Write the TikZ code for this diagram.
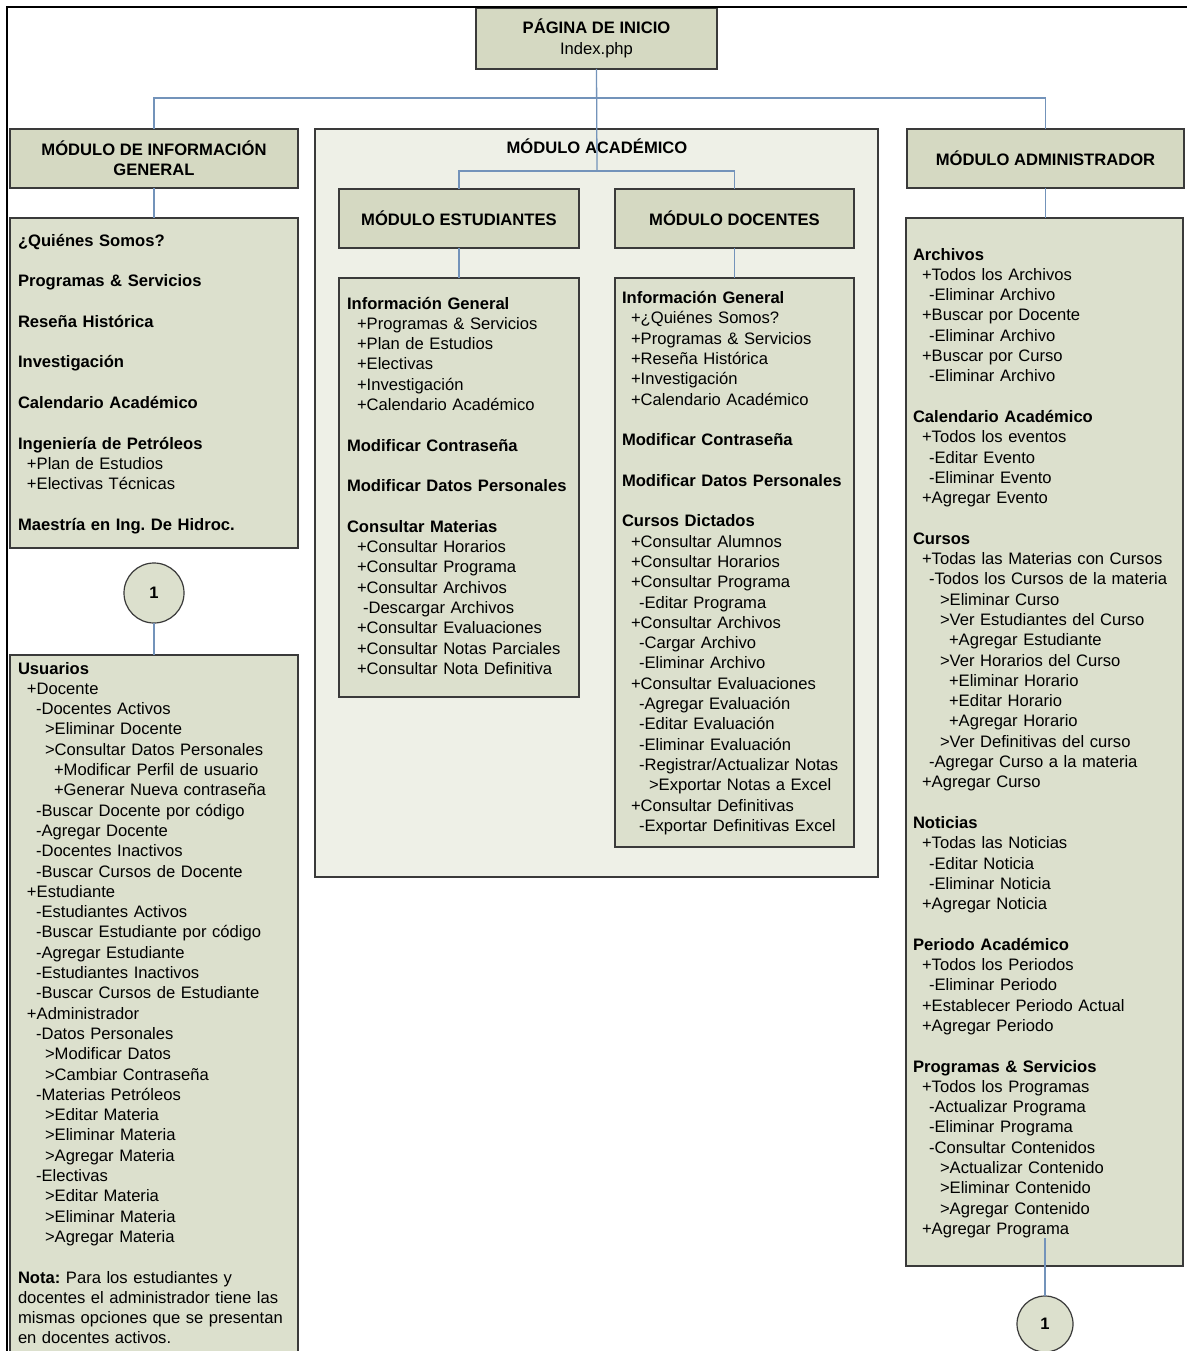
\documentclass[tikz,border=0pt]{standalone}
\usepackage{fontspec}
\setmainfont{Liberation Sans}
\frenchspacing
\definecolor{boxfill}{HTML}{DCE0CD}
\definecolor{hdrfill}{HTML}{D5D9C2}
\definecolor{acadfill}{HTML}{EEF0E7}
\definecolor{linkc}{HTML}{7393BA}
\definecolor{edgec}{HTML}{3A3A3A}
\newcommand\lv[1]{\hspace*{#1pt}}
\tikzset{
  hdr/.style={draw=edgec, line width=1.3pt, fill=hdrfill, inner sep=0pt, outer sep=0pt,
    anchor=north west, align=center, font=\fontsize{16.6}{20.3}\selectfont\bfseries},
  lst/.style={draw=edgec, line width=1.3pt, fill=boxfill, inner sep=0pt, outer sep=0pt, anchor=north west},
  acadbox/.style={draw=edgec, line width=1.3pt, fill=acadfill, inner sep=0pt, outer sep=0pt, anchor=north west},
  txt/.style={inner sep=0pt, outer sep=0pt, anchor=north west, align=left, text width=300pt,
    font=\fontsize{16.6}{20.3}\selectfont\frenchspacing},
  link/.style={draw=linkc, line width=1.3pt},
  conn/.style={circle, draw=edgec, line width=1.2pt, fill=boxfill, inner sep=0pt, outer sep=0pt,
    font=\fontsize{16.6}{20}\selectfont\bfseries},
}
\begin{document}
\begin{tikzpicture}[x=1pt,y=-1pt]
\useasboundingbox (0,0) rectangle (1186,1351);
\fill[white] (0,0) rectangle (1186,1351);

% academic container
\node[acadbox, minimum width=563, minimum height=748] (acad) at (315,129) {};
\node[font=\fontsize{16.6}{20.3}\selectfont\bfseries, inner sep=0pt] (acadt) at (597,146) {MÓDULO ACADÉMICO};

% connectors
\coordinate (split) at (597,171);
\node[hdr, minimum width=241, minimum height=61] (inicio) at (476,8) {PÁGINA DE INICIO\\{\mdseries Index.php}};
\node[hdr, minimum width=288, minimum height=59] (infoh) at (10,129) {MÓDULO DE INFORMACIÓN\\GENERAL};
\node[hdr, minimum width=277, minimum height=59] (adminh) at (907,129) {MÓDULO ADMINISTRADOR};
\node[hdr, minimum width=240, minimum height=59] (esth) at (339,189) {MÓDULO ESTUDIANTES};
\node[hdr, minimum width=239, minimum height=59] (doch) at (615,189) {MÓDULO DOCENTES};

\draw[link] (inicio.south) -- (split);
\draw[link] (infoh.north) -- ++(0,-31) -| (adminh.north);
\draw[link] (esth.north) |- (split) -| (doch.north);

% list boxes
\node[lst, minimum width=288, minimum height=330] (gen) at (10,218) {};
\node[lst, minimum width=288, minimum height=725] (usr) at (10,655) {};
\node[lst, minimum width=240, minimum height=419] (estl) at (339,278) {};
\node[lst, minimum width=239, minimum height=569] (docl) at (615,278) {};
\node[lst, minimum width=277, minimum height=1048] (adml) at (906,218) {};

\node[conn, minimum size=60] (c1) at (154,593) {1};
\node[conn, minimum size=56] (c2) at (1045,1324) {1};
\coordinate (c2top) at (1045,1238);

\draw[link] (infoh.south) -- (gen.north);
\draw[link] (c1.south) -- (usr.north);
\draw[link] (esth.south) -- (estl.north);
\draw[link] (doch.south) -- (docl.north);
\draw[link] (adminh.south) -- (adml.north -| adminh.south);
\draw[link] (c2top) -- (c2.north);

% texts
\node[txt] (gent) at (18,231.8) {\strut\textbf{¿Quiénes Somos?}\\[20.3pt]
\textbf{Programas \& Servicios}\\[20.3pt]
\textbf{Reseña Histórica}\\[20.3pt]
\textbf{Investigación}\\[20.3pt]
\textbf{Calendario Académico}\\[20.3pt]
\textbf{Ingeniería de Petróleos}\\
\lv{9}+Plan de Estudios\\
\lv{9}+Electivas Técnicas\\[20.3pt]
\textbf{Maestría en Ing. De Hidroc.}};

\node[txt] (usrt) at (18,659.8) {\strut\textbf{Usuarios}\\
\lv{9}+Docente\\
\lv{18}-Docentes Activos\\
\lv{27}>Eliminar Docente\\
\lv{27}>Consultar Datos Personales\\
\lv{36}+Modificar Perfil de usuario\\
\lv{36}+Generar Nueva contraseña\\
\lv{18}-Buscar Docente por código\\
\lv{18}-Agregar Docente\\
\lv{18}-Docentes Inactivos\\
\lv{18}-Buscar Cursos de Docente\\
\lv{9}+Estudiante\\
\lv{18}-Estudiantes Activos\\
\lv{18}-Buscar Estudiante por código\\
\lv{18}-Agregar Estudiante\\
\lv{18}-Estudiantes Inactivos\\
\lv{18}-Buscar Cursos de Estudiante\\
\lv{9}+Administrador\\
\lv{18}-Datos Personales\\
\lv{27}>Modificar Datos\\
\lv{27}>Cambiar Contraseña\\
\lv{18}-Materias Petróleos\\
\lv{27}>Editar Materia\\
\lv{27}>Eliminar Materia\\
\lv{27}>Agregar Materia\\
\lv{18}-Electivas\\
\lv{27}>Editar Materia\\
\lv{27}>Eliminar Materia\\
\lv{27}>Agregar Materia\\[20.3pt]
\textbf{Nota:} Para los estudiantes y\\
docentes el administrador tiene las\\
mismas opciones que se presentan\\
en docentes activos.};

\node[txt] (estt) at (347,294.8) {\strut\textbf{Información General}\\
\lv{10}+Programas \& Servicios\\
\lv{10}+Plan de Estudios\\
\lv{10}+Electivas\\
\lv{10}+Investigación\\
\lv{10}+Calendario Académico\\[20.3pt]
\textbf{Modificar Contraseña}\\[20.3pt]
\textbf{Modificar Datos Personales}\\[20.3pt]
\textbf{Consultar Materias}\\
\lv{10}+Consultar Horarios\\
\lv{10}+Consultar Programa\\
\lv{10}+Consultar Archivos\\
\lv{16}-Descargar Archivos\\
\lv{10}+Consultar Evaluaciones\\
\lv{10}+Consultar Notas Parciales\\
\lv{10}+Consultar Nota Definitiva};

\node[txt] (doct) at (622,289.3) {\strut\textbf{Información General}\\
\lv{9}+¿Quiénes Somos?\\
\lv{9}+Programas \& Servicios\\
\lv{9}+Reseña Histórica\\
\lv{9}+Investigación\\
\lv{9}+Calendario Académico\\[20.3pt]
\textbf{Modificar Contraseña}\\[20.3pt]
\textbf{Modificar Datos Personales}\\[20.3pt]
\textbf{Cursos Dictados}\\
\lv{9}+Consultar Alumnos\\
\lv{9}+Consultar Horarios\\
\lv{9}+Consultar Programa\\
\lv{17}-Editar Programa\\
\lv{9}+Consultar Archivos\\
\lv{17}-Cargar Archivo\\
\lv{17}-Eliminar Archivo\\
\lv{9}+Consultar Evaluaciones\\
\lv{17}-Agregar Evaluación\\
\lv{17}-Editar Evaluación\\
\lv{17}-Eliminar Evaluación\\
\lv{17}-Registrar/Actualizar Notas\\
\lv{27}>Exportar Notas a Excel\\
\lv{9}+Consultar Definitivas\\
\lv{17}-Exportar Definitivas Excel};

\node[txt] (admt) at (913,245.8) {\strut\textbf{Archivos}\\
\lv{9}+Todos los Archivos\\
\lv{16}-Eliminar Archivo\\
\lv{9}+Buscar por Docente\\
\lv{16}-Eliminar Archivo\\
\lv{9}+Buscar por Curso\\
\lv{16}-Eliminar Archivo\\[20.3pt]
\textbf{Calendario Académico}\\
\lv{9}+Todos los eventos\\
\lv{16}-Editar Evento\\
\lv{16}-Eliminar Evento\\
\lv{9}+Agregar Evento\\[20.3pt]
\textbf{Cursos}\\
\lv{9}+Todas las Materias con Cursos\\
\lv{16}-Todos los Cursos de la materia\\
\lv{27}>Eliminar Curso\\
\lv{27}>Ver Estudiantes del Curso\\
\lv{36}+Agregar Estudiante\\
\lv{27}>Ver Horarios del Curso\\
\lv{36}+Eliminar Horario\\
\lv{36}+Editar Horario\\
\lv{36}+Agregar Horario\\
\lv{27}>Ver Definitivas del curso\\
\lv{16}-Agregar Curso a la materia\\
\lv{9}+Agregar Curso\\[20.3pt]
\textbf{Noticias}\\
\lv{9}+Todas las Noticias\\
\lv{16}-Editar Noticia\\
\lv{16}-Eliminar Noticia\\
\lv{9}+Agregar Noticia\\[20.3pt]
\textbf{Periodo Académico}\\
\lv{9}+Todos los Periodos\\
\lv{16}-Eliminar Periodo\\
\lv{9}+Establecer Periodo Actual\\
\lv{9}+Agregar Periodo\\[20.3pt]
\textbf{Programas \& Servicios}\\
\lv{9}+Todos los Programas\\
\lv{16}-Actualizar Programa\\
\lv{16}-Eliminar Programa\\
\lv{16}-Consultar Contenidos\\
\lv{27}>Actualizar Contenido\\
\lv{27}>Eliminar Contenido\\
\lv{27}>Agregar Contenido\\
\lv{9}+Agregar Programa};

% outer frame
\draw[line width=2.5pt, line cap=rect] (7,1360) -- (7,7) -- (1190,7);
\end{tikzpicture}
\end{document}
